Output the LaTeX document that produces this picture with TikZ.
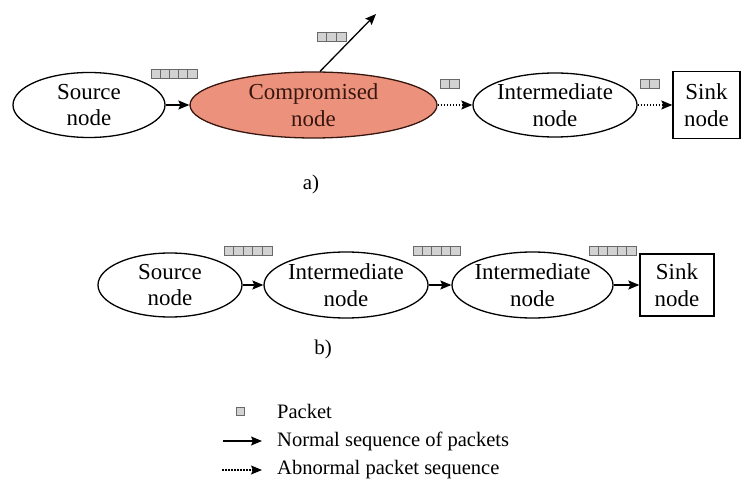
\documentclass[tikz,border=0pt]{standalone}
\usepackage{fontspec}
\setmainfont{Liberation Serif}
\usetikzlibrary{arrows.meta,shapes.geometric}
\definecolor{salmonfill}{RGB}{236,146,124}
\definecolor{comptext}{RGB}{55,22,15}
\definecolor{pktfill}{RGB}{210,210,210}
\definecolor{pktline}{RGB}{105,105,105}
\newcommand{\pktrow}[4]{%
  \foreach \i in {1,...,#1} {\draw[pk] ({#2+(\i-1)*#4},#3) rectangle ++(#4,9);}}
\begin{document}
\begin{tikzpicture}[x=1bp,y=-1bp,
  nd/.style={draw, line width=1.3bp, ellipse, inner sep=-6pt, align=center,
    font=\fontsize{23}{27}\selectfont},
  snk/.style={draw, line width=1.3bp, rectangle, inner sep=0pt, align=center,
    font=\fontsize{23}{27}\selectfont},
  arr/.style={line width=1.3bp, -{Stealth[length=11bp,width=9bp,inset=2bp]}},
  darr/.style={arr, dash pattern=on 1.6bp off 1.4bp},
  pk/.style={fill=pktfill, draw=pktline, line width=0.9bp},
  lbl/.style={font=\fontsize{21}{25}\selectfont, inner sep=0pt},
  leg/.style={font=\fontsize{20.6}{25}\selectfont, inner sep=0pt, anchor=west}]
\useasboundingbox (0,0) rectangle (746,484);

% ---- row a ----
\node[nd, minimum width=152bp, minimum height=65bp] (srcA) at (89,105) {Source\\node};
\node[nd, minimum width=247bp, minimum height=66bp, fill=salmonfill, draw=comptext,
  text=comptext] (comp) at (313.5,105) {Compromised\\node};
\node[nd, minimum width=164bp, minimum height=64bp] (intA) at (555,105) {Intermediate\\node};
\node[snk, minimum width=67bp, minimum height=67bp] (sinkA) at (706.5,105) {Sink\\node};
\coordinate (out) at (376,14);

\draw[arr] (srcA.east) -- (comp.west);
\draw[arr] (comp.79) -- (out);
\draw[darr] (comp.east) -- (intA.west);
\draw[darr] (intA.east) -- (sinkA.west);

\pktrow{5}{151}{69}{9.2}
\pktrow{3}{317}{32}{9.67}
\pktrow{2}{440}{79}{9.5}
\pktrow{2}{640}{79}{9.5}

\node[lbl] (la) at (311,184) {a)};

% ---- row b ----
\node[nd, minimum width=144bp, minimum height=64bp] (srcB) at (170,285) {Source\\node};
\node[nd, minimum width=164bp, minimum height=66bp] (intB1) at (346,285) {Intermediate\\node};
\node[nd, minimum width=161bp, minimum height=66bp] (intB2) at (532.5,285) {Intermediate\\node};
\node[snk, minimum width=74bp, minimum height=62bp] (sinkB) at (677,285) {Sink\\node};

\draw[arr] (srcB.east) -- (intB1.west);
\draw[arr] (intB1.east) -- (intB2.west);
\draw[arr] (intB2.east) -- (sinkB.west);

\pktrow{5}{224}{246}{9.6}
\pktrow{5}{413}{246}{9.4}
\pktrow{5}{589}{246}{9.4}

\node[lbl] (lb) at (323,349) {b)};

% ---- legend ----
\draw[pk] (236,407) rectangle (244,415);
\node[leg] (lp) at (277,411) {Packet};
\coordinate (n1) at (223,441);
\coordinate (n2) at (262,441);
\draw[arr] (n1) -- (n2);
\node[leg] (ln) at (277,441) {Normal sequence of packets};
\coordinate (d1) at (222,470);
\coordinate (d2) at (262,470);
\draw[darr] (d1) -- (d2);
\node[leg] (ld) at (277,470) {Abnormal packet sequence};
\end{tikzpicture}
\end{document}
